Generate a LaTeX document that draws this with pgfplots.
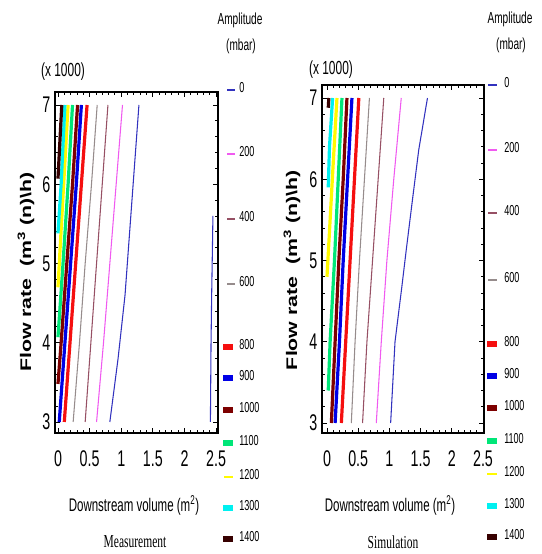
\documentclass[border=0pt]{standalone}
\usepackage{pgfplots}
\pgfplotsset{compat=1.18}
\usepackage{graphicx}
\usepackage{fontspec}
\setmainfont{Liberation Sans}
\newfontfamily\nar[FakeStretch=0.63]{Liberation Sans}
\newfontfamily\narserif[FakeStretch=0.63]{Liberation Serif}
\definecolor{cA}{RGB}{50,50,190}
\definecolor{cB}{RGB}{240,90,240}
\definecolor{cC}{RGB}{150,80,100}
\definecolor{cD}{RGB}{150,140,140}
\definecolor{cE}{RGB}{245,15,15}
\definecolor{cF}{RGB}{0,0,230}
\definecolor{cG}{RGB}{125,0,0}
\definecolor{cH}{RGB}{0,230,120}
\definecolor{cI}{RGB}{255,250,0}
\definecolor{cJ}{RGB}{0,240,240}
\definecolor{cK}{RGB}{55,0,0}
\pgfplotsset{
  mainax/.style={
    scale only axis, anchor=south west,
    axis line style={line width=0.8pt},
    tick align=inside,
    xtick={0,0.5,1,1.5,2,2.5}, ytick={3,4,5,6,7},
    minor x tick num=4, minor y tick num=4,
    major tick length=4pt, minor tick length=2.5pt,
    tick style={line width=0.6pt, black},
    ticklabel style={font=\nar\fontsize{17}{17}\selectfont},
    /pgf/number format/assume math mode=true,
    xticklabel style={yshift=-10pt},
    xlabel={\nar\fontsize{13.7}{13.7}\selectfont Downstream volume (m\textsuperscript{2})},
    ylabel={\scalebox{1}[0.72]{\bfseries\fontsize{16}{16}\selectfont Flow rate\ \ (m\textsuperscript{3} (n)\textbackslash h)}},
    thin/.style={line width=0.8pt},
    thick/.style={line width=2.4pt},
  }
}
\begin{document}
\begin{tikzpicture}
% overlay axis in pixel coordinates: legends and captions
\begin{axis}[scale only axis, anchor=south west, at={(0pt,0pt)},
  width=406.5pt, height=415.5pt, xmin=0, xmax=542, ymin=0, ymax=554,
  y dir=reverse, hide axis, clip=false]
  % left legend
  \addplot[cA, line width=1.5pt] coordinates {(227,90)(235,90)};
  \addplot[cB, line width=1.5pt] coordinates {(227,154)(235,154)};
  \addplot[cC, line width=1.5pt] coordinates {(227,219)(235,219)};
  \addplot[cD, line width=1.5pt] coordinates {(227,284)(235,284)};
  \addplot[cE, line width=4.5pt] coordinates {(223,347)(233,347)};
  \addplot[cF, line width=4.5pt] coordinates {(223,378)(233,378)};
  \addplot[cG, line width=4.5pt] coordinates {(223,410)(233,410)};
  \addplot[cH, line width=4.5pt] coordinates {(223,443)(233,443)};
  \addplot[cI, line width=2pt] coordinates {(224,477)(233,477)};
  \addplot[cJ, line width=4.5pt] coordinates {(223,508)(233,508)};
  \addplot[cK, line width=4.5pt] coordinates {(223,539)(233,539)};
  \begin{scope}[every node/.style={anchor=west, inner sep=0pt, font=\nar\fontsize{10.8}{10.8}\selectfont}]
  \node at (axis cs:239,88) {0};
  \node at (axis cs:239,152) {200};
  \node at (axis cs:239,217) {400};
  \node at (axis cs:239,282) {600};
  \node at (axis cs:239,345) {800};
  \node at (axis cs:239,376) {900};
  \node at (axis cs:239,408) {1000};
  \node at (axis cs:239,441) {1100};
  \node at (axis cs:239,475) {1200};
  \node at (axis cs:239,506) {1300};
  \node at (axis cs:239,537) {1400};
  \end{scope}
  % right legend
  \addplot[cA, line width=1.2pt] coordinates {(488,85)(497,85)};
  \addplot[cB, line width=1.5pt] coordinates {(488,150)(497,150)};
  \addplot[cC, line width=1.5pt] coordinates {(488,213)(497,213)};
  \addplot[cD, line width=1.5pt] coordinates {(488,280)(497,280)};
  \addplot[cE, line width=4pt] coordinates {(487,344)(497,344)};
  \addplot[cF, line width=5pt] coordinates {(487,376)(497,376)};
  \addplot[cG, line width=4pt] coordinates {(487,408)(497,408)};
  \addplot[cH, line width=4.5pt] coordinates {(487,441)(497,441)};
  \addplot[cI, line width=2pt] coordinates {(487,474)(497,474)};
  \addplot[cJ, line width=5pt] coordinates {(487,506)(497,506)};
  \addplot[cK, line width=4pt] coordinates {(487,537)(497,537)};
  \begin{scope}[every node/.style={anchor=west, inner sep=0pt, font=\nar\fontsize{10.8}{10.8}\selectfont}]
  \node at (axis cs:504,83) {0};
  \node at (axis cs:504,148) {200};
  \node at (axis cs:504,211) {400};
  \node at (axis cs:504,278) {600};
  \node at (axis cs:504,342) {800};
  \node at (axis cs:504,374) {900};
  \node at (axis cs:504,406) {1000};
  \node at (axis cs:504,439) {1100};
  \node at (axis cs:504,472) {1200};
  \node at (axis cs:504,504) {1300};
  \node at (axis cs:504,535) {1400};
  \end{scope}
  % titles
  \begin{scope}[every node/.style={inner sep=0pt, font=\nar\fontsize{12}{12}\selectfont}]
  \node at (axis cs:240,20) {Amplitude};
  \node at (axis cs:241,46) {(mbar)};
  \node at (axis cs:510,19) {Amplitude};
  \node at (axis cs:511,45) {(mbar)};
  \end{scope}
  \node[inner sep=0pt, font=\nar\fontsize{14.2}{14.2}\selectfont] at (axis cs:63,72) {(x 1000)};
  \node[inner sep=0pt, font=\nar\fontsize{14.2}{14.2}\selectfont] at (axis cs:331,70) {(x 1000)};
  \node[inner sep=0pt, font=\narserif\fontsize{13.7}{13.7}\selectfont] at (axis cs:135,542) {Measurement};
  \node[inner sep=0pt, font=\narserif\fontsize{13.7}{13.7}\selectfont] at (axis cs:393,542) {Simulation};
\end{axis}

% Measurement
\begin{axis}[mainax, at={(41.25pt,90.75pt)}, width=122.25pt, height=255.75pt,
  xmin=-0.047, xmax=2.53, ymin=2.861, ymax=7.164,
  xlabel style={at={(axis description cs:0.485,-0.211)}, anchor=center},
  ylabel style={at={(axis description cs:-0.178,0.472)}, anchor=center}]
  \addplot[cA, thin] coordinates {(0.82,3) (0.95,3.8) (1.06,4.6) (1.17,5.8) (1.28,7)};
  \addplot[cA, thin] coordinates {(2.41,3) (2.42,4.0) (2.43,4.6) (2.45,5.6)};
  \addplot[cB, thin] coordinates {(0.61,3) (0.72,4) (0.82,5) (0.92,6) (1.02,7)};
  \addplot[cC, thin] coordinates {(0.43,3) (0.52,4) (0.61,5) (0.70,6) (0.79,7)};
  \addplot[cD, thin] coordinates {(0.24,3) (0.34,4) (0.43,5) (0.53,6) (0.62,7)};
  \addplot[cE, thick] coordinates {(0.10,3) (0.19,4) (0.28,5) (0.37,6) (0.46,7)};
  \addplot[cF, thick] coordinates {(0.02,3) (0.11,4) (0.20,5) (0.29,6) (0.37,7)};
  \addplot[cG, thick] coordinates {(0.00,3.48) (0.05,4) (0.14,5) (0.23,6) (0.31,7)};
  \addplot[cH, thick] coordinates {(0.00,4.07) (0.08,5) (0.16,6) (0.23,7)};
  \addplot[cI, thick] coordinates {(0.00,4.7) (0.09,6) (0.16,7)};
  \addplot[cJ, thick] coordinates {(0.00,5.38) (0.05,6) (0.11,7)};
  \addplot[cK, thick] coordinates {(0.00,6.07) (0.06,7)};
\end{axis}

% Simulation
\begin{axis}[mainax, at={(241.5pt,90.75pt)}, width=121.5pt, height=261pt,
  xmin=-0.08, xmax=2.516, ymin=2.877, ymax=7.16,
  xlabel style={at={(axis description cs:0.42,-0.207)}, anchor=center},
  ylabel style={at={(axis description cs:-0.185,0.468)}, anchor=center}]
  \addplot[cA, thin] coordinates {(1.02,3) (1.09,4) (1.20,4.68) (1.27,5.13) (1.37,5.75) (1.47,6.36) (1.61,7)};
  \addplot[cB, thin] coordinates {(0.79,3) (0.87,4) (0.96,5) (1.07,6) (1.19,7)};
  \addplot[cC, thin] coordinates {(0.57,3) (0.64,4) (0.73,5) (0.82,6) (0.91,7)};
  \addplot[cD, thin] coordinates {(0.39,3) (0.45,4) (0.52,5) (0.60,6) (0.68,7)};
  \addplot[cE, thick] coordinates {(0.23,3) (0.30,4) (0.37,5) (0.44,6) (0.51,7)};
  \addplot[cF, thick] coordinates {(0.13,3) (0.20,4) (0.26,5) (0.33,6) (0.40,7)};
  \addplot[cG, thick] coordinates {(0.07,3) (0.13,4) (0.19,5) (0.26,6) (0.32,7)};
  \addplot[cH, thick] coordinates {(0.02,3.4) (0.05,4) (0.12,5) (0.18,6) (0.24,7)};
  \addplot[cI, thick] coordinates {(0.00,4.8) (0.05,5.5) (0.10,6.2) (0.16,7)};
  \addplot[cJ, thick] coordinates {(0.02,5.9) (0.04,6.4) (0.09,7)};
  \addplot[cK, thick] coordinates {(0.02,6.88) (0.03,7)};
\end{axis}
\pgfresetboundingbox
\path (0,0) rectangle (406.5pt,415.5pt);
\end{tikzpicture}
\end{document}
